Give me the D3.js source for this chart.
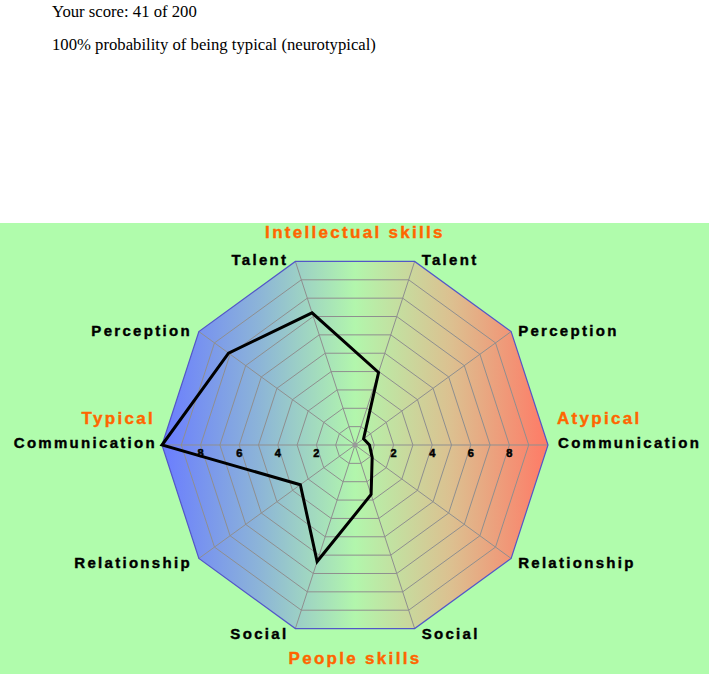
<!DOCTYPE html>
<html lang="en">
    <head>
        <style>
            body { margin: 0; background: #fff; }
            .intro { font-family: "Liberation Serif", "Times New Roman", serif; font-size: 16.7px; margin: 0; position: absolute; left: 52px; }
            .ring { fill: none; stroke: #8f8f8f; stroke-width: 1px; }
            .spoke { stroke: #8f8f8f; stroke-width: 1px; }
            .score { fill: none; stroke: #000; stroke-width: 3px; stroke-linejoin: miter; }
            .lbl { font-family: "Liberation Sans", Arial, sans-serif; font-weight: bold; font-size: 15px; letter-spacing: 2.3px; fill: #000; stroke: #000; stroke-width: 0.4px; }
            .head { font-family: "Liberation Sans", Arial, sans-serif; font-weight: bold; font-size: 17px; letter-spacing: 2.3px; fill: #ff6600; stroke: #ff6600; stroke-width: 0.4px; }
            .tick { font-family: "Liberation Sans", Arial, sans-serif; font-weight: bold; font-size: 11px; fill: #000; stroke: #000; stroke-width: 0.5px; }
        </style>
        <script src="https://d3js.org/d3.v7.min.js"></script>
        <title>Score</title>
    </head>
    <body>
        <p class="intro" style="top:2px">Your score: 41 of 200</p>
        <p class="intro" style="top:35px">100% probability of being typical (neurotypical)</p>
        <div id="radar" style="position:absolute; left:0; top:223px;"></div>
        <script>
            // axes go counter-clockwise starting at the right (atypical) Communication
            var axisNames = ["Communication", "Perception", "Talent", "Talent", "Perception",
                             "Communication", "Relationship", "Social", "Social", "Relationship"];
            var scores = [0.75, 0.55, 3.95, 7.2, 8.1, 10, 3.5, 6.35, 2.7, 1.1];
            var tickValues = [2, 4, 6, 8];
            var headings = {top: "Intellectual skills", bottom: "People skills", left: "Typical", right: "Atypical"};
            var maxValue = 10;

            var width = 709, height = 451;
            var cx = 355, cy = 222, radius = 193;

            var svg = d3.select("#radar")
                .append("svg")
                    .attr("width", width)
                    .attr("height", height);

            svg.append("rect")
                .attr("width", width)
                .attr("height", height)
                .attr("fill", "#b0fcac");

            var r = d3.scaleLinear().domain([0, maxValue]).range([0, radius]);
            var angle = d3.scaleLinear().domain([0, axisNames.length]).range([0, 2 * Math.PI]);

            function px(i, v) { return cx + r(v) * Math.cos(angle(i)); }
            function py(i, v) { return cy - r(v) * Math.sin(angle(i)); }

            var grad = svg.append("defs").append("linearGradient")
                .attr("id", "bg")
                .attr("x1", "0%").attr("x2", "100%")
                .attr("y1", "0%").attr("y2", "0%");
            grad.append("stop").attr("offset", "0%").attr("stop-color", "#6a7dff");
            grad.append("stop").attr("offset", "25%").attr("stop-color", "#8cb4d8");
            grad.append("stop").attr("offset", "50%").attr("stop-color", "#b2f6ac");
            grad.append("stop").attr("offset", "75%").attr("stop-color", "#dcc090");
            grad.append("stop").attr("offset", "100%").attr("stop-color", "#ff7a66");

            var idx = d3.range(axisNames.length);
            var ring = function(v) {
                return idx.map(function(i) { return [px(i, v), py(i, v)]; });
            };
            var polygonPath = d3.line().curve(d3.curveLinearClosed);

            svg.append("path")
                .attr("d", polygonPath(ring(maxValue)))
                .attr("fill", "url(#bg)");

            svg.selectAll(".ring")
                .data(d3.range(1, maxValue))
                .enter()
                .append("path")
                    .attr("class", "ring")
                    .attr("d", function(d) { return polygonPath(ring(d)); });

            svg.selectAll(".spoke")
                .data(idx)
                .enter()
                .append("line")
                    .attr("class", "spoke")
                    .attr("x1", cx).attr("y1", cy)
                    .attr("x2", function(i) { return px(i, maxValue); })
                    .attr("y2", function(i) { return py(i, maxValue); });

            svg.append("path")
                .attr("d", polygonPath(ring(maxValue)))
                .attr("fill", "none")
                .attr("stroke", "#5356c8")
                .attr("stroke-width", 1.2);

            svg.append("circle")
                .attr("cx", cx).attr("cy", cy).attr("r", 2.5)
                .attr("fill", "#999");

            // scale labels along the horizontal axis
            [1, -1].forEach(function(side) {
                svg.selectAll(null)
                    .data(tickValues)
                    .enter()
                    .append("text")
                        .attr("class", "tick")
                        .attr("text-anchor", "middle")
                        .attr("x", function(d) { return cx + side * r(d); })
                        .attr("y", cy + 12)
                        .text(function(d) { return d; });
            });

            svg.append("path")
                .attr("class", "score")
                .attr("d", polygonPath(scores.map(function(v, i) { return [px(i, v), py(i, v)]; })));

            // axis names
            svg.selectAll(".lbl")
                .data(axisNames)
                .enter()
                .append("text")
                    .attr("class", "lbl")
                    .attr("text-anchor", function(d, i) { return Math.cos(angle(i)) > 0 ? "start" : "end"; })
                    .attr("x", function(d, i) {
                        var c = Math.cos(angle(i));
                        var off = Math.abs(c) > 0.99 ? (c > 0 ? 10 : 5) : 7;
                        return px(i, maxValue) + (c > 0 ? off : -off);
                    })
                    .attr("y", function(d, i) {
                        var s = Math.sin(angle(i));
                        return py(i, maxValue) + (s > 0.1 ? 4 : (s < -0.1 ? 10 : 3));
                    })
                    .text(function(d) { return d; });

            svg.append("text").attr("class", "head").attr("text-anchor", "middle")
                .attr("x", cx).attr("y", 15).text(headings.top);
            svg.append("text").attr("class", "head").attr("text-anchor", "middle")
                .attr("x", cx).attr("y", 441).text(headings.bottom);
            svg.append("text").attr("class", "head").attr("text-anchor", "end")
                .attr("x", 155).attr("y", 201).text(headings.left);
            svg.append("text").attr("class", "head").attr("text-anchor", "start")
                .attr("x", 557).attr("y", 201).text(headings.right);
        </script>
    </body>
</html>
